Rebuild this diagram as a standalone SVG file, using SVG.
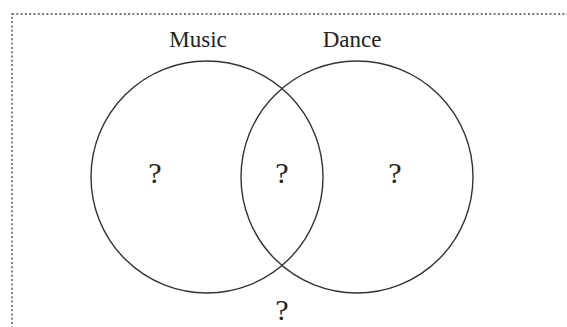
<svg xmlns="http://www.w3.org/2000/svg" width="567" height="327" viewBox="0 0 567 327">
<style>
.c{fill:none;stroke:#333;stroke-width:1.4}
.t{font-family:"Liberation Serif",serif;fill:#222;text-anchor:middle}
.lab{font-size:23px}
.q{font-size:30px}
</style>
<rect x="0" y="0" width="567" height="327" fill="#fff"/>
<rect x="12" y="14" width="600" height="400" fill="none" stroke="#777" stroke-width="1.8" stroke-dasharray="2 2.3"/>
<g id="music"><circle class="c" cx="207" cy="177" r="116"/><text class="t lab" x="198" y="47">Music</text></g>
<g id="dance"><circle class="c" cx="357" cy="177" r="116"/><text class="t lab" x="352" y="47">Dance</text></g>
<g id="labels">
<text class="t q" x="155" y="183">?</text>
<text class="t q" x="282" y="183">?</text>
<text class="t q" x="395" y="183">?</text>
<text class="t q" x="282" y="320">?</text>
</g>
<g id="connectors"/>
</svg>
